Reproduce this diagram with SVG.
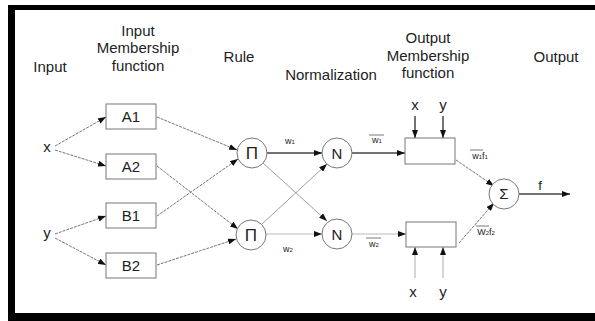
<svg xmlns="http://www.w3.org/2000/svg" width="595" height="321" viewBox="0 0 595 321">
<defs>
<marker id="ah" markerUnits="userSpaceOnUse" markerWidth="8" markerHeight="6" refX="8" refY="3" orient="auto">
<path d="M0,0 L8,3 L0,6 z" fill="#111"/>
</marker>
<style>
text{font-family:"Liberation Sans",Arial,sans-serif;fill:#222}
.t{font-size:15px;text-anchor:middle}
.n{font-size:15px;text-anchor:middle}
.p{font-size:17px;text-anchor:middle}
.s{font-size:9px;text-anchor:middle}
.box{fill:#fff;stroke:#777;stroke-width:1}
.c{fill:#fff;stroke:#777;stroke-width:1}
.d{stroke:#666;stroke-width:0.9;fill:none;stroke-dasharray:3 1;marker-end:url(#ah)}
.l{stroke:#888;stroke-width:0.8;fill:none;marker-end:url(#ah)}
.k{stroke:#444;stroke-width:1.5;fill:none;marker-end:url(#ah)}
.g{stroke:#bbb;stroke-width:1.2;fill:none;marker-end:url(#ah)}
.ov{stroke:#555;stroke-width:0.8}
</style>
</defs>
<rect width="595" height="321" fill="#fff"/>
<g id="frame" fill="#000">
<rect x="8" y="5" width="587" height="5"/>
<rect x="8" y="5" width="7" height="316"/>
<rect x="8" y="313" width="587" height="8"/>
</g>
<g id="titles">
<text class="t" x="50" y="72">Input</text>
<text class="t" x="138" y="36">Input</text>
<text class="t" x="138" y="53">Membership</text>
<text class="t" x="138" y="71">function</text>
<text class="t" x="239" y="62">Rule</text>
<text class="t" x="331" y="80">Normalization</text>
<text class="t" x="428" y="43">Output</text>
<text class="t" x="428" y="61">Membership</text>
<text class="t" x="428" y="78">function</text>
<text class="t" x="556" y="62">Output</text>
</g>
<g id="connectors">
<path class="d" d="M55,146 L106,117"/>
<path class="d" d="M55,150 L106,166"/>
<path class="d" d="M55,234 L106,216"/>
<path class="d" d="M55,238 L106,265"/>
<path class="d" d="M157,117 L237,150"/>
<path class="d" d="M157,166 L238,229"/>
<path class="d" d="M157,216 L238,159"/>
<path class="d" d="M157,265 L236,239"/>
<path class="k" d="M267,153 L322,153"/>
<path class="l" d="M263,163 L327,221"/>
<path class="l" d="M262,224 L327,164"/>
<path class="g" d="M266,234 L322,234"/>
<path class="k" d="M352,153 L405,153"/>
<path class="g" d="M352,234 L406,234"/>
<path class="k" d="M415,116 L415,138"/>
<path class="k" d="M443,116 L443,138"/>
<path class="g" d="M415,278 L415,247"/>
<path class="g" d="M443,278 L443,247"/>
<path class="d" d="M456,160 L494,186"/>
<path class="d" d="M459,243 L494,203"/>
<path class="k" d="M519,194 L570,194"/>
</g>
<g id="x_in"><text class="n" x="47" y="152">x</text></g>
<g id="y_in"><text class="n" x="47" y="238">y</text></g>
<g id="A1"><rect class="box" x="106" y="104" width="50" height="25"/><text class="n" x="131" y="122">A1</text></g>
<g id="A2"><rect class="box" x="106" y="154" width="50" height="25"/><text class="n" x="131" y="172">A2</text></g>
<g id="B1"><rect class="box" x="106" y="203" width="50" height="25"/><text class="n" x="131" y="221">B1</text></g>
<g id="B2"><rect class="box" x="106" y="253" width="50" height="25"/><text class="n" x="131" y="271">B2</text></g>
<g id="P1"><circle class="c" cx="252" cy="153" r="15"/><text class="p" x="252" y="159">Π</text></g>
<g id="P2"><circle class="c" cx="251" cy="235" r="15"/><text class="p" x="251" y="241">Π</text></g>
<g id="N1"><circle class="c" cx="337" cy="153" r="15"/><text class="n" x="337" y="159">N</text></g>
<g id="N2"><circle class="c" cx="337" cy="234" r="15"/><text class="n" x="337" y="240">N</text></g>
<g id="O1"><rect class="box" x="405" y="138" width="50" height="26"/></g>
<g id="O2"><rect class="box" x="406" y="222" width="50" height="25"/></g>
<g id="S"><circle class="c" cx="504" cy="194" r="15"/><text class="n" x="504" y="199">Σ</text></g>
<g id="labels">
<text class="n" x="415" y="110">x</text>
<text class="n" x="443" y="110">y</text>
<text class="n" x="413" y="297">x</text>
<text class="n" x="443" y="297">y</text>
<text class="n" x="540" y="190" style="font-size:13px">f</text>
<text class="s" x="290" y="144">w<tspan font-size="6">1</tspan></text>
<text class="s" x="288" y="252">w<tspan font-size="6">2</tspan></text>
<line class="ov" x1="369" y1="135" x2="384" y2="135"/>
<text class="s" x="377" y="143">w<tspan font-size="6">1</tspan></text>
<line class="ov" x1="366" y1="238" x2="381" y2="238"/>
<text class="s" x="374" y="247">w<tspan font-size="6">2</tspan></text>
<line class="ov" x1="470" y1="150" x2="483" y2="150"/>
<text class="s" x="480" y="159">w<tspan font-size="6">1</tspan>f<tspan font-size="6">1</tspan></text>
<line class="ov" x1="476" y1="226" x2="489" y2="226"/>
<text class="s" x="486" y="235">W<tspan font-size="6">2</tspan>f<tspan font-size="6">2</tspan></text>
</g>
</svg>
